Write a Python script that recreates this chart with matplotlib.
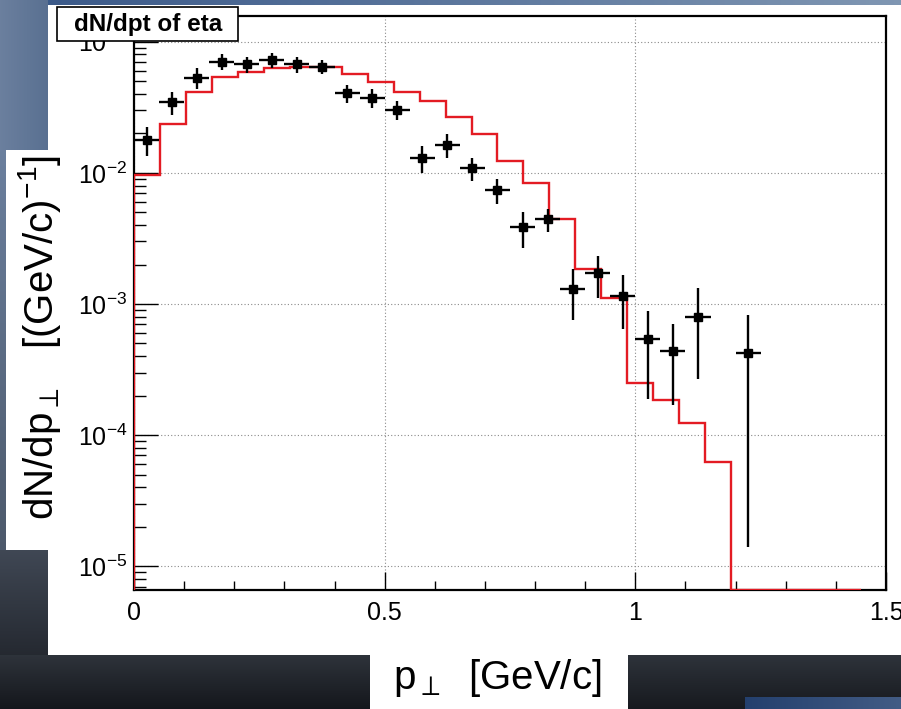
import numpy as np
import matplotlib
matplotlib.use("Agg")
import matplotlib.pyplot as plt
from matplotlib.ticker import LogLocator, MultipleLocator, FuncFormatter, NullFormatter
from matplotlib.patches import Rectangle

plt.rcParams['font.family'] = ['Liberation Sans', 'DejaVu Sans']
plt.rcParams['mathtext.fontset'] = 'custom'
plt.rcParams['mathtext.rm'] = 'Liberation Sans'
plt.rcParams['mathtext.it'] = 'Liberation Sans:italic'
plt.rcParams['mathtext.bf'] = 'Liberation Sans:bold'

# measured eta spectrum (bin centres, dN/dpt, stat. error)
pt = [0.025, 0.075, 0.125, 0.175, 0.225, 0.275, 0.325, 0.375, 0.425, 0.475,
      0.525, 0.575, 0.625, 0.675, 0.725, 0.775, 0.825, 0.875, 0.925, 0.975,
      1.025, 1.075, 1.125, 1.225]
dndpt = [0.0179, 0.0344, 0.0533, 0.0705, 0.0673, 0.0726, 0.0673, 0.0646, 0.0406, 0.0372,
         0.0301, 0.0130, 0.0164, 0.0108, 0.00734, 0.00386, 0.00442, 0.00130, 0.00171, 0.00115,
         0.00054, 0.00044, 0.00080, 0.00042]
dndpt_err = [0.0044, 0.0068, 0.0097, 0.0095, 0.0096, 0.0099, 0.0092, 0.0080, 0.0065, 0.0062,
             0.0050, 0.0030, 0.0035, 0.0022, 0.0016, 0.0012, 0.0009, 0.00055, 0.0006, 0.0005,
             0.00035, 0.00027, 0.00053, 0.000406]
pt_halfwidth = 0.025

# simulation histogram
sim_range = (0.0, 1.45)
sim = [0.0097, 0.0236, 0.0417, 0.0542, 0.0590, 0.0625, 0.0645, 0.0640, 0.0570, 0.0497,
       0.0412, 0.0350, 0.0266, 0.0198, 0.01225, 0.0083, 0.00445, 0.00186, 0.00111, 0.000249,
       0.000187, 0.000124, 0.0000625, 0, 0, 0, 0, 0]

xlim = (0, 1.5)
ylim = (6.6e-6, 0.157)

W, H = 901, 709
fig = plt.figure(figsize=(W / 100, H / 100), dpi=100)

# slide background behind the canvas
bg = np.ones((H, W, 3))
t = np.linspace(0, 1, W)[None, :, None]
bg[0:5, :] = (1 - t) * np.array([0.22, 0.34, 0.53]) + t * np.array([0.50, 0.59, 0.70])
tl = np.linspace(0, 1, 48)[None, :, None]
bg[0:150, 0:48] = (1 - tl) * np.array([0.42, 0.50, 0.62]) + tl * np.array([0.35, 0.44, 0.57])
tv = np.linspace(0, 1, 400)[:, None, None]
bg[150:550, 0:6] = (1 - tv) * np.array([0.42, 0.50, 0.62]) + tv * np.array([0.30, 0.35, 0.42])
tv = np.linspace(0, 1, 159)[:, None, None]
bg[550:709, 0:48] = (1 - tv) * np.array([0.25, 0.28, 0.33]) + tv * np.array([0.09, 0.10, 0.12])
tv = np.linspace(0, 1, 54)[:, None, None]
bg[655:709, 0:370] = (1 - tv) * np.array([0.18, 0.20, 0.23]) + tv * np.array([0.08, 0.09, 0.11])
bg[655:709, 628:901] = (1 - tv) * np.array([0.18, 0.20, 0.23]) + tv * np.array([0.09, 0.10, 0.12])
th = np.linspace(0, 1, W - 745)[None, :, None]
bg[697:709, 745:901] = (1 - th) * np.array([0.14, 0.25, 0.43]) + th * np.array([0.26, 0.36, 0.52])
fig.figimage(bg, 0, 0, origin='upper', zorder=-1)

ax = fig.add_axes([134 / W, 1 - 590 / H, 752 / W, 574 / H])
ax.set_yscale('log')
ax.set_xlim(*xlim)
ax.set_ylim(*ylim)

# simulation as a red step histogram
edges = np.linspace(sim_range[0], sim_range[1], len(sim) + 1)
sim_plot = np.clip(np.array(sim), ylim[0], None)
ax.stairs(sim_plot, edges, baseline=ylim[0], color='#e31b23', lw=1.7, zorder=3)

# data points
ax.errorbar(pt, dndpt, yerr=dndpt_err, xerr=pt_halfwidth, fmt='s', color='black',
            ms=5.5, elinewidth=1.7, capsize=0, zorder=4)

ax.grid(True, which='major', color='#8a8a8a', linestyle=(0, (1, 2)), lw=0.8)
ax.xaxis.set_major_locator(MultipleLocator(0.5))
ax.xaxis.set_minor_locator(MultipleLocator(0.1))
ax.xaxis.set_major_formatter(FuncFormatter(lambda v, p: f"{v:g}"))
ax.yaxis.set_major_locator(LogLocator(base=10))
ax.yaxis.set_minor_locator(LogLocator(base=10, subs=np.arange(2, 10)))
ax.yaxis.set_minor_formatter(NullFormatter())
ax.yaxis.set_major_formatter(FuncFormatter(lambda v, p: r'$10^{%d}$' % round(np.log10(v))))

ax.tick_params(axis='both', which='both', direction='in', top=False, right=False, labelsize=18)
ax.tick_params(axis='y', which='major', length=17, width=1.0, pad=5)
ax.tick_params(axis='y', which='minor', length=8.5, width=1.0)
ax.tick_params(axis='x', which='major', length=13, width=1.0, pad=8)
ax.tick_params(axis='x', which='minor', length=6.5, width=1.0)
for s in ax.spines.values():
    s.set_linewidth(1.6)

# histogram title box
def fx(x):
    return x / W

def fy(y):
    return 1 - y / H

fig.patches.append(Rectangle((fx(57), fy(41)), fx(181), 34 / H, transform=fig.transFigure,
                             facecolor='white', edgecolor='black', lw=1.2, zorder=10))
fig.text(fx(148), fy(24), 'dN/dpt of eta', ha='center', va='center', fontsize=17.5,
         fontweight='bold', zorder=11)

# axis titles
fig.text(fx(40), fy(337), r'dN/dp$_{\perp}$   [(GeV/c)$^{-1}$]', rotation=90,
         ha='center', va='center', fontsize=29)
fig.text(fx(393), fy(678), r'p$_{\perp}$  [GeV/c]', ha='left', va='center', fontsize=29)

fig.savefig('out.png', dpi=100)
